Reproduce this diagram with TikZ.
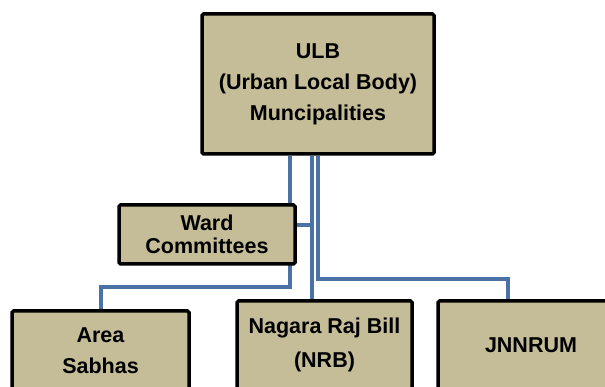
\documentclass[tikz,border=0pt]{standalone}
\usepackage{fontspec}
\setmainfont{Liberation Sans}
\usepackage{tikz}
\usetikzlibrary{backgrounds}
\definecolor{tanbox}{HTML}{C4BD97}
\definecolor{linkblue}{HTML}{4A72A6}
\tikzset{
	unit/.style={draw=black, line width=3.5pt, fill=tanbox, rounded corners=1.5pt, align=center, inner sep=0pt, font=\bfseries\fontsize{21.5}{31}\selectfont},
	link/.style={draw=linkblue, line width=4pt},
}

\begin{document}
\begin{tikzpicture}[x=1pt,y=-1pt]
			\useasboundingbox (0,0) rectangle (605,387);
			\clip (0,0) rectangle (605,387);
			\node[unit, minimum width=232, minimum height=140] (ulb) at (318,84) {ULB\\(Urban Local Body)\\Muncipalities};
			\node[unit, minimum width=176, minimum height=59, font=\bfseries\fontsize{21.5}{22.5}\selectfont] (ward) at (207,234.5) {Ward\\Committees};
			\node[unit, minimum width=177, minimum height=79] (area) at (100.5,350.5) {Area\\Sabhas};
			\node[unit, minimum width=175, minimum height=88, font=\bfseries\fontsize{21.5}{34}\selectfont] (nrb) at (324.5,345) {Nagara Raj Bill\\(NRB)};
			\node[unit, minimum width=186, minimum height=88] (jnnrum) at (531,345) {JNNRUM};
			\coordinate (trunk) at ([xshift=-6.5pt]ulb.south);
			\coordinate (wardjoin) at ([yshift=9.5pt]ward.east);
			\coordinate (areabend) at ([yshift=22pt]area.north);
			\coordinate (jbend) at ([xshift=-23pt,yshift=20pt]jnnrum.north);
			\begin{scope}[on background layer]
				\draw[link] ([xshift=-28pt]ulb.south) |- (areabend) -- (area.north);
				\draw[link] (trunk) -- (trunk |- nrb.north);
				\draw[link] (wardjoin) -- (trunk |- wardjoin);
				\draw[link] ([xshift=-0.5pt]ulb.south) |- (jbend) -- (jbend |- jnnrum.north);
			\end{scope}
		\end{tikzpicture}
\end{document}
